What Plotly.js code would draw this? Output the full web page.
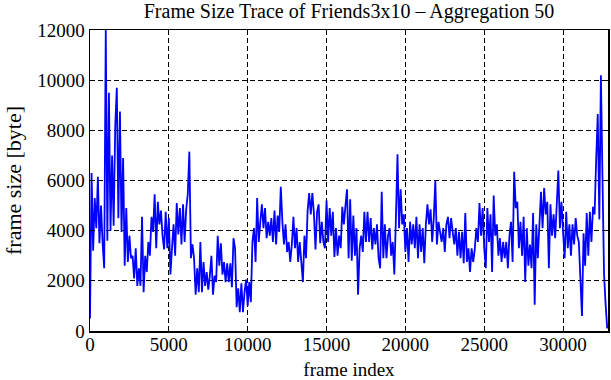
<!DOCTYPE html>
<html>
<head>
<meta charset="utf-8">
<script src="https://cdn.plot.ly/plotly-3.0.1.min.js"></script>
<style>
  html, body { margin: 0; padding: 0; background: #ffffff; }
  #chart { width: 611px; height: 380px; }
</style>
</head>
<body>
<div id="chart"></div>
<script>
// Aggregated frame sizes (bytes), one value every 100 frames, starting at frame 0
const aggregationStartFrame = 0;
const aggregationStepFrames = 100;
const frameSizeBytes = [
  500, 6300, 3200, 5300, 4100, 6150, 3500, 5000, 3500, 2500,
  12000, 3600, 9500, 4000, 7000, 4200, 8150, 9700, 4500, 8750,
  3950, 6900, 2600, 4900, 2750, 3800, 2900, 3000, 2100, 3300,
  1800, 2500, 1800, 4550, 1550, 3000, 2350, 3550, 3000, 4550,
  3950, 5450, 3300, 5150, 4250, 4800, 3800, 3250, 4750, 3300,
  4500, 2250, 3300, 4250, 3000, 5100, 3850, 4900, 3450, 5050,
  3550, 4850, 5450, 7150, 2900, 3450, 2900, 1450, 2500, 1550,
  3550, 1550, 2750, 1800, 2350, 1650, 2200, 3000, 1450, 2200,
  1950, 3800, 2600, 3500, 2250, 2750, 1950, 2700, 1950, 2700,
  1750, 3700, 3300, 950, 1700, 750, 1900, 750, 1550, 2050,
  1000, 1950, 1150, 3550, 4100, 2750, 5300, 3550, 4350, 5050,
  4100, 4900, 3700, 4350, 3800, 4500, 3550, 4800, 3450, 4600,
  3950, 5750, 4350, 3450, 4250, 3150, 3550, 2750, 3450, 4550,
  3300, 4100, 2750, 3550, 2750, 1950, 3800, 2900, 4800, 5500,
  4650, 5500, 4700, 3250, 4750, 5050, 3500, 4350, 3550, 3300,
  5200, 3550, 4900, 3800, 4750, 2950, 4100, 3000, 3800, 3300,
  4950, 4250, 5000, 5650, 2900, 5250, 2800, 4600, 3000, 4100,
  1450, 3300, 3800, 3150, 4750, 3550, 4750, 3550, 4500, 3250,
  4100, 3450, 4250, 2900, 2500, 5550, 2900, 4250, 2900, 3800,
  4100, 3000, 3550, 2250, 4500, 7050, 4100, 5650, 4250, 4650,
  3150, 4100, 2750, 4350, 3450, 4250, 3300, 4550, 2900, 4250,
  3150, 4100, 2700, 4250, 5050, 4250, 4850, 3550, 4500, 6000,
  3450, 4350, 3950, 3550, 4100, 3150, 4250, 4550, 3700, 4500,
  3950, 3450, 4100, 3000, 3950, 2900, 3950, 2700, 4700, 2750,
  3300, 2350, 3300, 2750, 3250, 4100, 3550, 5100, 3800, 4900,
  3300, 2500, 4900, 3550, 4650, 2350, 5400, 3800, 4250, 3000,
  3700, 2750, 3550, 2900, 3550, 2500, 3800, 4350, 2750, 6350,
  4900, 5150, 3300, 4350, 3000, 4550, 1950, 4100, 2600, 3450,
  2500, 4700, 1050, 4250, 2900, 4550, 5550, 4100, 5700, 4650,
  5150, 2500, 5050, 3800, 4650, 3700, 5300, 6400, 4100, 5150,
  3950, 2900, 4750, 3300, 4250, 3000, 4250, 3450, 4500, 3800,
  3550, 1950, 600, 3900, 2600, 4700, 3000, 4750, 3550, 4950,
  4650, 6850, 8650, 4450, 10200, 6100, 2250, 1050, 100
];
const xTickValues = [0, 5000, 10000, 15000, 20000, 25000, 30000];
const xTickLabels = ['0', '5000', '10000', '15000', '20000', '25000', '30000'];
const yTickValues = [0, 2000, 4000, 6000, 8000, 10000, 12000];
const yTickLabels = ['0', '2000', '4000', '6000', '8000', '10000', '12000'];
const chartTitle = 'Frame Size Trace of Friends3x10 \u2013 Aggregation 50';
const xTitle = 'frame index';
const yTitle = 'frame size [byte]';

const frameIndex = frameSizeBytes.map((_, i) => aggregationStartFrame + i * aggregationStepFrames);

const FONT = 'Liberation Serif, Times New Roman, serif';

const trace = {
  x: frameIndex,
  y: frameSizeBytes,
  type: 'scatter',
  mode: 'lines',
  line: { color: '#0000ff', width: 1.8 },
  hoverinfo: 'skip'
};

const axisCommon = {
  showline: true,
  linecolor: '#000000',
  linewidth: 1.5,
  mirror: 'ticks',
  ticks: 'inside',
  ticklen: 5,
  tickwidth: 1,
  tickcolor: '#000000',
  showgrid: true,
  gridcolor: '#000000',
  gridwidth: 1,
  griddash: '5px,3px',
  zeroline: false,
  tickfont: { family: FONT, size: 19, color: '#000000' },
  tickmode: 'array'
};

const layout = {
  width: 611,
  height: 380,
  paper_bgcolor: '#ffffff',
  plot_bgcolor: '#ffffff',
  margin: { l: 90, r: 3, t: 30, b: 49 },
  showlegend: false,
  title: {
    text: chartTitle,
    font: { family: FONT, size: 20, color: '#000000' },
    x: 0.5, xref: 'paper',
    y: 1 - 11 / 380, yref: 'container', yanchor: 'middle'
  },
  xaxis: Object.assign({}, axisCommon, {
    range: [0, 32850],
    tickvals: xTickValues,
    ticktext: xTickLabels,
    ticklabelstandoff: -4,
    title: { text: xTitle, font: { family: FONT, size: 19, color: '#000000' }, standoff: 8 }
  }),
  yaxis: Object.assign({}, axisCommon, {
    range: [0, 12000],
    tickvals: yTickValues,
    ticktext: yTickLabels,
    title: { text: yTitle, font: { family: FONT, size: 22, color: '#000000' }, standoff: 9 }
  })
};

Plotly.newPlot('chart', [trace], layout, { staticPlot: true, displayModeBar: false });
</script>
</body>
</html>
